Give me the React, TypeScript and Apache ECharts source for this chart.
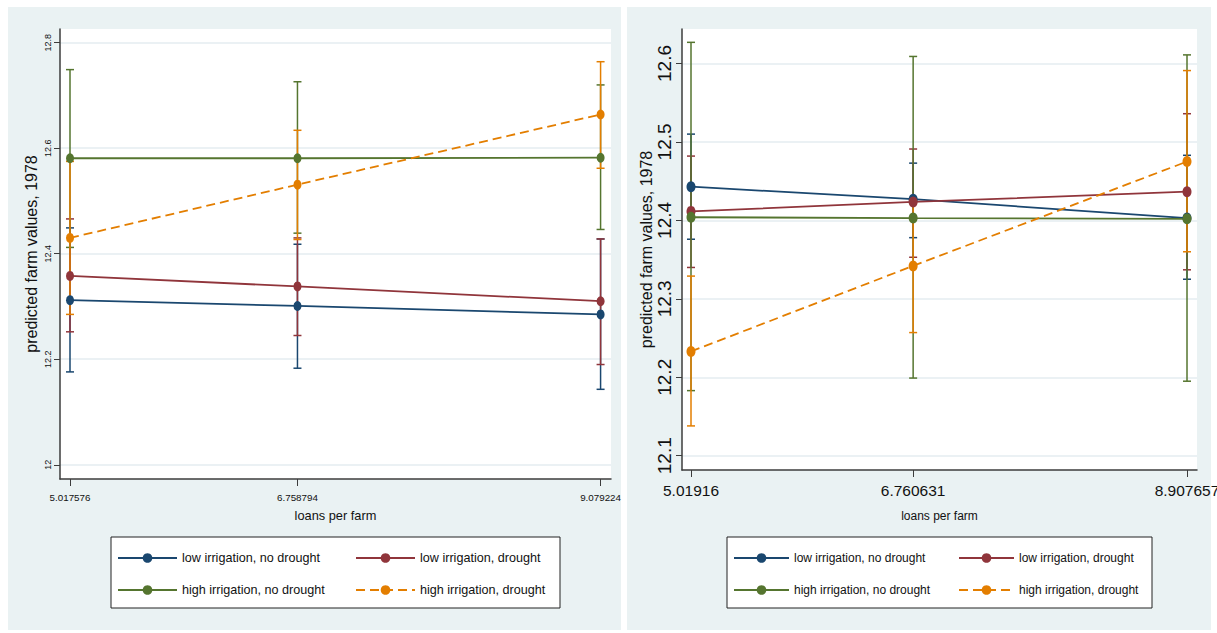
import React, { useEffect, useRef } from "react";
import * as echarts from "echarts";

const seriesNames = [
  "low irrigation, no drought",
  "low irrigation, drought",
  "high irrigation, no drought",
  "high irrigation, drought",
];
const seriesColors = ["#1a476f", "#90353b", "#55752f", "#e37e00"];

// Left panel
const leftX = [5.017576, 6.758794, 9.079224];
const leftXLabels = ["5.017576", "6.758794", "9.079224"];
const leftYTicks = [12, 12.2, 12.4, 12.6, 12.8];
const leftYLabels = ["12", "12.2", "12.4", "12.6", "12.8"];
const leftMean = [
  [12.312, 12.301, 12.285],
  [12.358, 12.338, 12.31],
  [12.581, 12.581, 12.582],
  [12.43, 12.531, 12.664],
];
const leftLower = [
  [12.176, 12.183, 12.143],
  [12.252, 12.245, 12.19],
  [12.412, 12.439, 12.446],
  [12.285, 12.427, 12.562],
];
const leftUpper = [
  [12.449, 12.418, 12.428],
  [12.466, 12.43, 12.428],
  [12.749, 12.726, 12.72],
  [12.575, 12.634, 12.764],
];

// Right panel
const rightX = [5.01916, 6.760631, 8.907657];
const rightXLabels = ["5.01916", "6.760631", "8.907657"];
const rightYTicks = [12.1, 12.2, 12.3, 12.4, 12.5, 12.6];
const rightYLabels = ["12.1", "12.2", "12.3", "12.4", "12.5", "12.6"];
const rightMean = [
  [12.443, 12.427, 12.403],
  [12.4115, 12.4235, 12.4366],
  [12.404, 12.403, 12.402],
  [12.233, 12.342, 12.475],
];
const rightLower = [
  [12.376, 12.378, 12.325],
  [12.34, 12.353, 12.337],
  [12.183, 12.199, 12.195],
  [12.138, 12.257, 12.36],
];
const rightUpper = [
  [12.51, 12.473, 12.483],
  [12.482, 12.491, 12.536],
  [12.627, 12.609, 12.611],
  [12.329, 12.427, 12.591],
];

const SANS = "'Liberation Sans', Arial, sans-serif";
const AXIS_COLOR = "#3c3c3c";
const GRID_COLOR = "#e5edf0";

function pickLabel(values: number[], labels: string[], v: number) {
  let best = 0;
  for (let i = 1; i < values.length; i++) {
    if (Math.abs(values[i] - v) < Math.abs(values[best] - v)) best = i;
  }
  return labels[best];
}

function makeXAxis(
  gridIndex: number,
  ticks: number[],
  labels: string[],
  min: number,
  max: number,
  labelSize: number,
  nameSize: number,
  nameGap: number,
  margin: number
) {
  return {
    type: "value",
    gridIndex,
    min,
    max,
    axisLine: { show: true, onZero: false, lineStyle: { color: AXIS_COLOR, width: 1.5 } },
    axisTick: { show: true, customValues: ticks, length: 7, lineStyle: { color: AXIS_COLOR, width: 1 } },
    axisLabel: {
      customValues: ticks,
      formatter: (v: number) => pickLabel(ticks, labels, v),
      margin,
      fontSize: labelSize,
      fontFamily: SANS,
      color: "#111",
      showMinLabel: true,
      showMaxLabel: true,
    },
    splitLine: { show: false },
    name: "loans per farm",
    nameLocation: "middle",
    nameGap,
    nameTextStyle: { fontSize: nameSize, fontFamily: SANS, color: "#111" },
  };
}

function makeYAxis(
  gridIndex: number,
  ticks: number[],
  labels: string[],
  min: number,
  max: number,
  labelSize: number,
  nameGap: number
) {
  return {
    type: "value",
    gridIndex,
    min,
    max,
    axisLine: { show: true, onZero: false, lineStyle: { color: AXIS_COLOR, width: 1.5 } },
    axisTick: { show: true, customValues: ticks, length: 6, lineStyle: { color: AXIS_COLOR, width: 1 } },
    axisLabel: {
      customValues: ticks,
      formatter: (v: number) => pickLabel(ticks, labels, v),
      rotate: 90,
      margin: 8,
      fontSize: labelSize,
      fontFamily: SANS,
      color: "#111",
      showMinLabel: true,
      showMaxLabel: true,
    },
    splitLine: { show: true, lineStyle: { color: GRID_COLOR, width: 1.5 } },
    name: "predicted farm values, 1978",
    nameLocation: "middle",
    nameRotate: 90,
    nameGap,
    nameTextStyle: { fontSize: 16, fontFamily: SANS, color: "#111" },
  };
}

function panelSeries(
  idx: number,
  xs: number[],
  mean: number[][],
  lower: number[][],
  upper: number[][],
  symbolSize: number[],
  capHalf: number
) {
  const out: any[] = [];
  for (let g = 0; g < seriesNames.length; g++) {
    const color = seriesColors[g];
    out.push({
      type: "custom",
      name: "ci-" + idx + "-" + g,
      xAxisIndex: idx,
      yAxisIndex: idx,
      z: 1,
      silent: true,
      data: xs.map((x, i) => [x, lower[g][i], upper[g][i]]),
      renderItem: (params: any, api: any) => {
        const x = api.value(0);
        const pLo = api.coord([x, api.value(1)]);
        const pHi = api.coord([x, api.value(2)]);
        const style = { stroke: color, lineWidth: 1.5, fill: "none" };
        return {
          type: "group",
          children: [
            { type: "line", shape: { x1: pLo[0], y1: pLo[1], x2: pHi[0], y2: pHi[1] }, style },
            { type: "line", shape: { x1: pLo[0] - capHalf, y1: pLo[1], x2: pLo[0] + capHalf, y2: pLo[1] }, style },
            { type: "line", shape: { x1: pHi[0] - capHalf, y1: pHi[1], x2: pHi[0] + capHalf, y2: pHi[1] }, style },
          ],
        };
      },
    });
  }
  for (let g = 0; g < seriesNames.length; g++) {
    const color = seriesColors[g];
    out.push({
      type: "line",
      name: seriesNames[g],
      xAxisIndex: idx,
      yAxisIndex: idx,
      z: 3,
      data: xs.map((x, i) => [x, mean[g][i]]),
      symbol: "circle",
      symbolSize,
      showSymbol: true,
      itemStyle: { color },
      lineStyle: { color, width: 1.8, type: g === 3 ? [9, 5] : "solid" },
    });
  }
  return out;
}

function makeLegend(left: number, top: number, names: string[], fontSize: number, itemWidth: number, gap: number) {
  return {
    left,
    top,
    orient: "vertical",
    itemWidth,
    itemHeight: 12,
    itemGap: gap,
    itemTextGap: 9,
    selectedMode: false,
    data: names,
    padding: 0,
    textStyle: { fontSize, fontFamily: SANS, color: "#111", lineHeight: 16 },
  };
}

export default function App() {
  const ref = useRef<HTMLDivElement>(null);
  useEffect(() => {
    document.body.style.margin = "0";
    if (!ref.current) return;
    const chart = echarts.init(ref.current, null, { renderer: "svg" });
    const option: any = {
      animation: false,
      backgroundColor: "#ffffff",
      graphic: [
        { type: "rect", z: -10, shape: { x: 8, y: 7, width: 613, height: 623 }, style: { fill: "#eaf2f3" } },
        { type: "rect", z: -10, shape: { x: 627, y: 7, width: 584, height: 623 }, style: { fill: "#eaf2f3" } },
        { type: "rect", z: 1, shape: { x: 111, y: 537, width: 449, height: 71 }, style: { fill: "#ffffff", stroke: "#222", lineWidth: 1 } },
        { type: "rect", z: 1, shape: { x: 727, y: 537, width: 425, height: 71 }, style: { fill: "#ffffff", stroke: "#222", lineWidth: 1 } },
      ],
      grid: [
        { left: 60, top: 29, width: 551, height: 450, show: true, backgroundColor: "#ffffff", borderWidth: 0, outerBoundsMode: "none" },
        { left: 682, top: 29, width: 515, height: 441, show: true, backgroundColor: "#ffffff", borderWidth: 0, outerBoundsMode: "none" },
      ],
      xAxis: [
        makeXAxis(0, leftX, leftXLabels, 4.941, 9.159, 9.8, 12.8, 30, 13),
        makeXAxis(1, rightX, rightXLabels, 4.9486, 8.986, 15.5, 12, 40, 12),
      ],
      yAxis: [
        makeYAxis(0, leftYTicks, leftYLabels, 11.973, 12.826, 9, 21),
        makeYAxis(1, rightYTicks, rightYLabels, 12.0818, 12.644, 19, 23),
      ],
      legend: [
        makeLegend(117, 550, [seriesNames[0], seriesNames[2]], 12.6, 59, 16),
        makeLegend(355, 550, [seriesNames[1], seriesNames[3]], 12.6, 59, 16),
        makeLegend(733, 550, [seriesNames[0], seriesNames[2]], 12, 55, 16),
        makeLegend(958, 550, [seriesNames[1], seriesNames[3]], 12, 55, 16),
      ],
      series: [
        ...panelSeries(0, leftX, leftMean, leftLower, leftUpper, [8, 10], 4),
        ...panelSeries(1, rightX, rightMean, rightLower, rightUpper, [9, 11], 4),
      ],
    };
    chart.setOption(option);
    return () => chart.dispose();
  }, []);
  return <div ref={ref} style={{ width: 1217, height: 633 }} />;
}
